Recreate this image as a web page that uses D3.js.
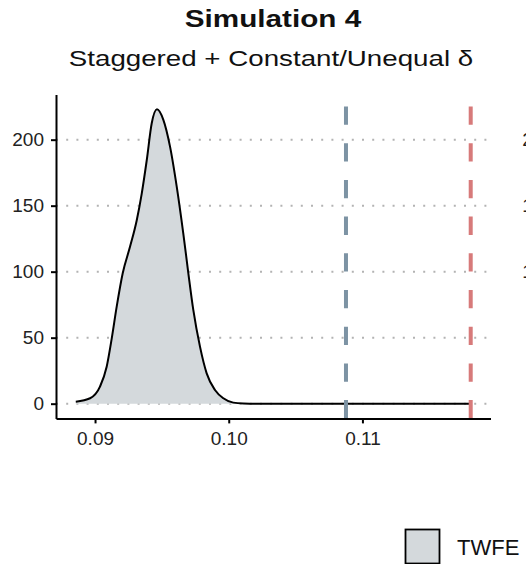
<!DOCTYPE html>
<html>
<head>
<meta charset="utf-8">
<script src="https://cdn.jsdelivr.net/npm/d3@7"></script>
<style>
  html, body { margin: 0; padding: 0; background: #fff; }
  svg { display: block; font-family: "Liberation Sans", Arial, Helvetica, sans-serif; }
</style>
</head>
<body>
<svg id="chart" width="526" height="564"></svg>
<script>
// ---- data ----
const title = "Simulation 4";
const subtitle = "Staggered + Constant/Unequal \u03B4";
const legendLabel = "TWFE";

const densityX = [0.08856, 0.08963, 0.09037, 0.09087, 0.09125, 0.09162, 0.09207, 0.09262,
  0.09312, 0.09349, 0.09387, 0.09424, 0.09463, 0.09511, 0.09561, 0.09611, 0.0966, 0.09698,
  0.09735, 0.09785, 0.09835, 0.09897, 0.0996, 0.10034, 0.1011, 0.1025, 0.1181];
const densityY = [1.5, 4.1, 12.9, 28, 49.5, 73.5, 98.8, 119,
  139, 159, 184.6, 212.4, 223, 215, 194.7, 164.4, 129, 98.8,
  71, 43.2, 23, 10.4, 4.1, 0.8, 0.2, 0, 0];

const refLines = [0.10877, 0.1181];
const refColors = ["#7d93a4", "#d77a7a"];

const xTicks = [0.09, 0.10, 0.11];
const xTickLabels = ["0.09", "0.10", "0.11"];
const yTicks = [0, 50, 100, 150, 200];
const yTickLabels = ["0", "50", "100", "150", "200"];
// labels of the neighbouring panel visible (cut) at the right edge
const neighbourTicks = [100, 150, 200];
const neighbourLabels = ["100", "150", "200"];

// ---- scales ----
const svg = d3.select("#chart");
const x = d3.scaleLinear().domain([0.08708, 0.11958]).range([56, 490.5]);
const y = d3.scaleLinear().domain([-11.15, 234.15]).range([418.4, 94.6]);

// ---- titles ----
svg.append("text")
  .attr("transform", "translate(273,27) scale(1.29,1)")
  .attr("text-anchor", "middle")
  .attr("font-size", 23).attr("font-weight", "bold").attr("fill", "#111")
  .text(title);
svg.append("text")
  .attr("transform", "translate(271,66) scale(1.26,1)")
  .attr("text-anchor", "middle")
  .attr("font-size", 22).attr("fill", "#111")
  .text(subtitle);

// ---- gridlines ----
svg.append("g").selectAll("line").data(yTicks).join("line")
  .attr("x1", x.range()[0]).attr("x2", x.range()[1])
  .attr("y1", d => y(d)).attr("y2", d => y(d))
  .attr("stroke", "#b3b3b3").attr("stroke-width", 2)
  .attr("stroke-dasharray", "2,8.2");

// ---- density ----
const pts = densityX.map((d, i) => [d, densityY[i]]);
const area = d3.area().x(d => x(d[0])).y0(y(0)).y1(d => y(d[1])).curve(d3.curveMonotoneX);
const line = d3.line().x(d => x(d[0])).y(d => y(d[1])).curve(d3.curveMonotoneX);
svg.append("path").datum(pts).attr("d", area).attr("fill", "#d4d9dc");
svg.append("path").datum(pts).attr("d", line)
  .attr("fill", "none").attr("stroke", "#000").attr("stroke-width", 2);

// ---- reference lines ----
svg.append("g").selectAll("line").data(refLines).join("line")
  .attr("x1", d => x(d)).attr("x2", d => x(d))
  .attr("y1", y.range()[0]).attr("y2", y.range()[1])
  .attr("stroke", (d, i) => refColors[i]).attr("stroke-width", 4)
  .attr("stroke-dasharray", "18.3,18.4");

// ---- axes ----
const yAxis = d3.axisLeft(y).tickValues(yTicks).tickFormat((d, i) => yTickLabels[i])
  .tickSizeInner(5).tickSizeOuter(0).tickPadding(7);
const gy = svg.append("g").attr("transform", `translate(${x.range()[0]},0)`).call(yAxis);
const xAxis = d3.axisBottom(x).tickValues(xTicks).tickFormat((d, i) => xTickLabels[i])
  .tickSizeInner(5).tickSizeOuter(0).tickPadding(8);
const gx = svg.append("g").attr("transform", `translate(0,${y.range()[0]})`).call(xAxis);
[gx, gy].forEach(g => {
  g.attr("font-size", 19).attr("font-family", "'Liberation Sans', Arial, sans-serif");
  g.select(".domain").attr("stroke", "#000").attr("stroke-width", 2);
  g.selectAll(".tick line").attr("stroke", "#000").attr("stroke-width", 2);
  g.selectAll(".tick text").attr("font-size", 19).attr("fill", "#222");
});

// ---- neighbouring panel's y labels (cut at the right edge) ----
svg.append("g").selectAll("text").data(neighbourTicks).join("text")
  .attr("x", 554).attr("y", d => y(d)).attr("dy", "0.35em")
  .attr("text-anchor", "end").attr("font-size", 19).attr("fill", "#222")
  .text((d, i) => neighbourLabels[i]);

// ---- legend ----
svg.append("rect").attr("x", 405.5).attr("y", 529.5).attr("width", 34).attr("height", 34)
  .attr("fill", "#d4d9dc").attr("stroke", "#000").attr("stroke-width", 1.8);
svg.append("text").attr("x", 457).attr("y", 555).attr("font-size", 22).attr("fill", "#111")
  .text(legendLabel);
</script>
</body>
</html>
